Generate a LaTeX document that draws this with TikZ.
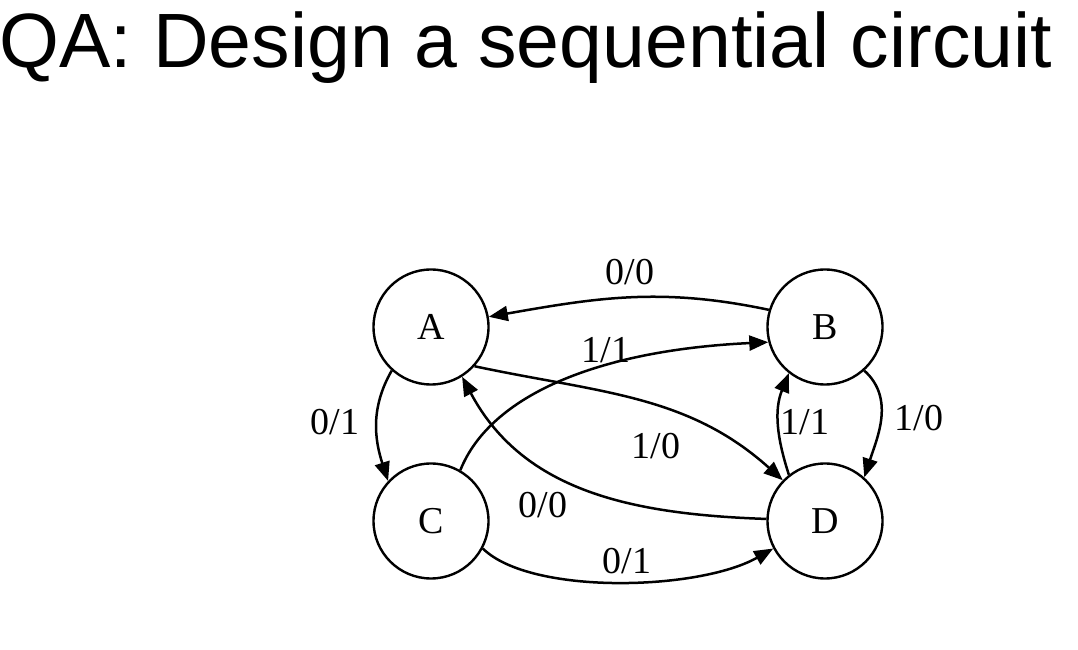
\documentclass[tikz,border=0pt]{standalone}
\usepackage{fontspec}
\setmainfont{Liberation Serif}
\newfontfamily\titlefont{Liberation Sans}
\usetikzlibrary{arrows.meta}
\begin{document}
\begin{tikzpicture}[x=1pt,y=1pt,
  state/.style={draw,circle,line width=2.4pt,minimum size=115pt,inner sep=0pt,font=\fontsize{38}{42}\selectfont},
  edge/.style={line width=2.5pt,-{Triangle[length=19pt,width=15pt]}},
  elabel/.style={font=\fontsize{38}{42}\selectfont,inner sep=0pt}]
\useasboundingbox (0,0) rectangle (1078,650);
\node[anchor=base west,inner sep=0pt,font=\titlefont\fontsize{77}{80}\selectfont] (title) at (-1,582) {QA: Design a sequential circuit};
\node[state] (A) at (431,323) {A};
\node[state] (B) at (825,323) {B};
\node[state] (C) at (431,129) {C};
\node[state] (D) at (825,129) {D};
% edges
\draw[edge] (B.163) to[out=168,in=10] (A.10);
\draw[edge] (C.60) .. controls +(30,75) and +(-170,-8) .. (B.195);
\draw[edge] (A.-42) to[out=-12,in=138] (D.136);
\draw[edge] (D.178) to[out=178,in=-62] (A.-58);
\draw[edge] (A.-132) to[out=-120,in=108] (C.137);
\draw[edge] (C.-28) .. controls +(48,-47) and +(-74,-42) .. (D.-152);
\draw[edge] (D.128) to[out=108,in=-112] (B.-128);
\draw[edge] (B.-48) to[out=-42,in=72] (D.48);
% labels
\node[elabel] (l1) at (630,378) {0/0};
\node[elabel] (l2) at (606,300) {1/1};
\node[elabel] (l3) at (656,204) {1/0};
\node[elabel] (l4) at (543,145) {0/0};
\node[elabel] (l5) at (335,228) {0/1};
\node[elabel] (l6) at (627,89) {0/1};
\node[elabel] (l7) at (805,228) {1/1};
\node[elabel] (l8) at (919,232) {1/0};
\end{tikzpicture}
\end{document}
